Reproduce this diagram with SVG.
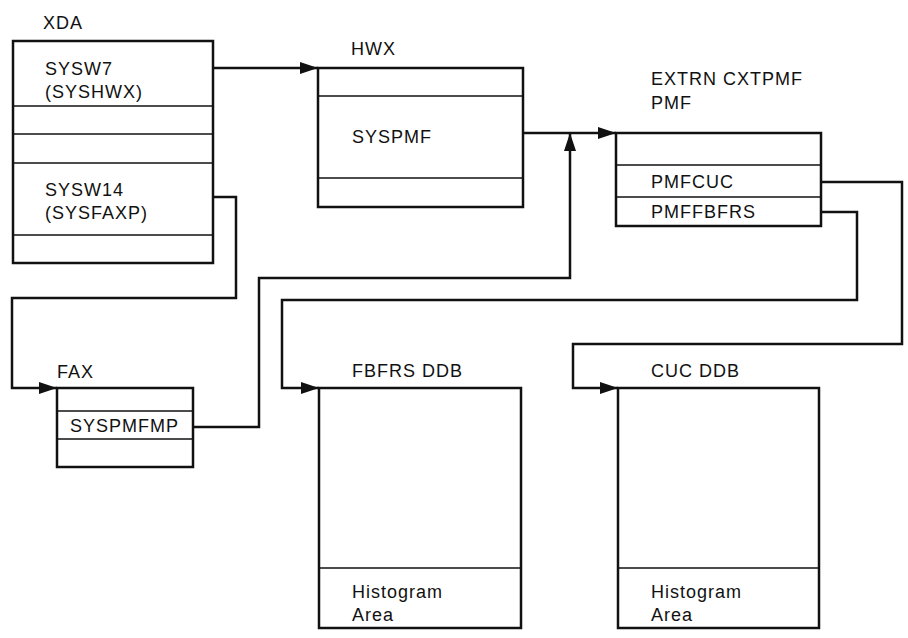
<svg xmlns="http://www.w3.org/2000/svg" width="908" height="638" viewBox="0 0 908 638">
<style>
text{font-family:"Liberation Sans",Arial,sans-serif;font-size:18px;fill:#111;letter-spacing:1px}
.box{fill:#fff;stroke:#111;stroke-width:2.5}
.div{stroke:#111;stroke-width:1.5}
.conn{fill:none;stroke:#111;stroke-width:2.5}
</style>
<defs>
<marker id="ah" markerUnits="userSpaceOnUse" markerWidth="18" markerHeight="12" refX="18" refY="6" orient="auto">
<path d="M0,0 L18,6 L0,12 z" fill="#111"/>
</marker>
</defs>
<rect width="908" height="638" fill="#fff"/>
<g id="connectors">
<polyline class="conn" points="213,68 318,68" marker-end="url(#ah)"/>
<polyline class="conn" points="523,133 616,133" marker-end="url(#ah)"/>
<polyline class="conn" points="193,427 259,427 259,278 570,278 570,133" marker-end="url(#ah)"/>
<polyline class="conn" points="213,197 236,197 236,298 12,298 12,388 57,388" marker-end="url(#ah)"/>
<polyline class="conn" points="821,212 857,212 857,300 282,300 282,388 319,388" marker-end="url(#ah)"/>
<polyline class="conn" points="821,182 902,182 902,344 573,344 573,388 618,388" marker-end="url(#ah)"/>
</g>
<g id="xda">
<text x="43" y="29">XDA</text>
<rect class="box" x="13" y="41" width="200" height="222"/>
<line class="div" x1="13" y1="106" x2="213" y2="106"/>
<line class="div" x1="13" y1="134" x2="213" y2="134"/>
<line class="div" x1="13" y1="163" x2="213" y2="163"/>
<line class="div" x1="13" y1="235" x2="213" y2="235"/>
<text x="45" y="75">SYSW7</text>
<text x="45" y="98">(SYSHWX)</text>
<text x="45" y="196">SYSW14</text>
<text x="45" y="219">(SYSFAXP)</text>
</g>
<g id="hwx">
<text x="351" y="55">HWX</text>
<rect class="box" x="318" y="68" width="205" height="139"/>
<line class="div" x1="318" y1="96" x2="523" y2="96"/>
<line class="div" x1="318" y1="178" x2="523" y2="178"/>
<text x="352" y="143">SYSPMF</text>
</g>
<g id="pmf">
<text x="651" y="85">EXTRN CXTPMF</text>
<text x="651" y="109">PMF</text>
<rect class="box" x="616" y="133" width="205" height="93"/>
<line class="div" x1="616" y1="165" x2="821" y2="165"/>
<line class="div" x1="616" y1="197" x2="821" y2="197"/>
<text x="651" y="188">PMFCUC</text>
<text x="651" y="218">PMFFBFRS</text>
</g>
<g id="fax">
<text x="57" y="378">FAX</text>
<rect class="box" x="57" y="388" width="136" height="79"/>
<line class="div" x1="57" y1="411" x2="193" y2="411"/>
<line class="div" x1="57" y1="439" x2="193" y2="439"/>
<text x="70" y="432">SYSPMFMP</text>
</g>
<g id="fbfrs-ddb">
<text x="352" y="377">FBFRS DDB</text>
<rect class="box" x="319" y="388" width="202" height="240"/>
<line class="div" x1="319" y1="568" x2="521" y2="568"/>
<text x="352" y="598">Histogram</text>
<text x="352" y="621">Area</text>
</g>
<g id="cuc-ddb">
<text x="651" y="377">CUC DDB</text>
<rect class="box" x="618" y="388" width="201" height="240"/>
<line class="div" x1="618" y1="568" x2="819" y2="568"/>
<text x="651" y="598">Histogram</text>
<text x="651" y="621">Area</text>
</g>
</svg>
